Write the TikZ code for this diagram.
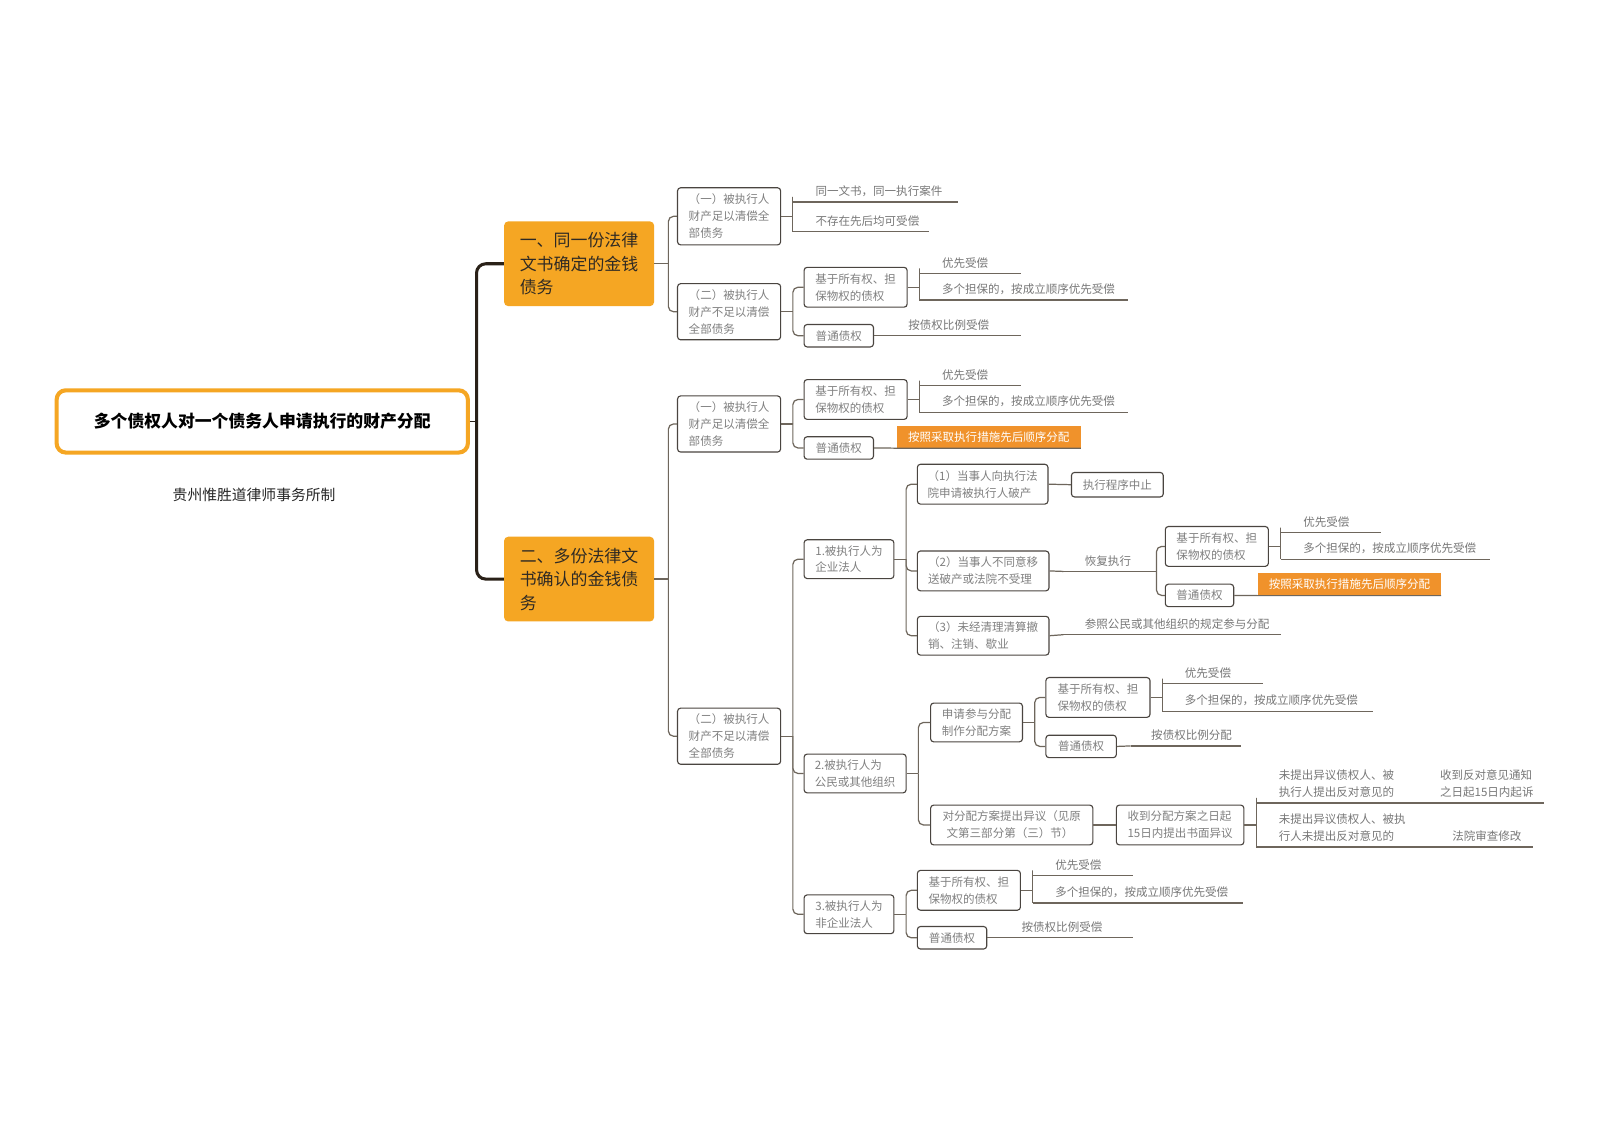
\documentclass[tikz,border=0pt]{standalone}
\usepackage{fontspec}
\setmainfont{Noto Sans CJK SC}
\usetikzlibrary{calc}
\definecolor{org}{HTML}{F5A623}
\definecolor{hlc}{HTML}{F0922B}
\definecolor{bdr}{HTML}{4A4540}
\definecolor{cn}{HTML}{6E665C}
\definecolor{tg}{HTML}{808080}
\definecolor{ut}{HTML}{787878}
\definecolor{dk}{HTML}{2A2118}
\definecolor{otxt}{HTML}{2F2A24}
\newcommand\ulpad[1]{\hspace*{#1pt}}
\begin{document}
\begin{tikzpicture}[x=1pt,y=-1pt,
  fs/.style={font=\fontsize{11.3}{16.5}\selectfont},
  bx/.style={fs, draw=bdr, line width=1.1pt, rounded corners=3pt, fill=white, text=tg, align=left, inner sep=0pt},
  ul/.style={fs, anchor=south west, inner xsep=0pt, inner ysep=5pt, align=left, text=ut},
  hlbox/.style={fs, fill=hlc, text=white, inner sep=0pt},
  root/.style={draw=org, line width=4pt, rounded corners=9pt, fill=white, minimum width=403pt, minimum height=61pt, font=\fontsize{16.5}{20}\selectfont\bfseries, text=black},
  obox/.style={fill=org, rounded corners=4pt, minimum width=147pt, minimum height=83pt, font=\fontsize{16.6}{23}\selectfont, align=left, text=otxt, inner sep=0pt},
  conn/.style={draw=cn, line width=1.2pt, rounded corners=5pt},
  ulline/.style={draw=cn, line width=1.2pt},
  mainline/.style={draw=dk, line width=3pt, rounded corners=9pt}
]
\useasboundingbox (0,0) rectangle (1568,1107);
\fill[white] (0,0) rectangle (1568,1107);

% root and main branches
\node[root] (R) at (257,413) {多个债权人对一个债务人申请执行的财产分配};
\node[font=\fontsize{14.5}{18}\selectfont, text=black!85] (S) at (249,485) {贵州惟胜道律师事务所制};
\node[obox] (O1) at (567.5,258.5) {一、同一份法律\\文书确定的金钱\\债务};
\node[obox] (O2) at (567.5,567.5) {二、多份法律文\\书确认的金钱债\\务};
\coordinate (jr) at (467,413);
\draw[draw=dk, line width=1.2pt] (R.east) -- (jr);
\draw[mainline] (O1.west) -| (jr) |- (O2.west);

% level 2
\node[bx, minimum width=101pt, minimum height=56pt] (A1) at (714.5,212) {（一）被执行人\\财产足以清偿全\\部债务};
\node[bx, minimum width=101pt, minimum height=55pt] (A2) at (714.5,305.5) {（二）被执行人\\财产不足以清偿\\全部债务};
\node[bx, minimum width=101pt, minimum height=55pt] (B1) at (714.5,415.5) {（一）被执行人\\财产足以清偿全\\部债务};
\node[bx, minimum width=101pt, minimum height=55pt] (B2) at (714.5,721.5) {（二）被执行人\\财产不足以清偿\\全部债务};
\coordinate (jO1) at (655,258.5);
\coordinate (jO2) at (655,567.5);
\draw[conn] (O1.east) -- (jO1);
\draw[conn] (jO1) |- (A1.west);
\draw[conn] (jO1) |- (A2.west);
\draw[conn] (O2.east) -- (jO2);
\draw[conn] (jO2) |- (B1.west);
\draw[conn] (jO2) |- (B2.west);

% A1 children
\node[ul, text width=161pt] (A1u1) at (777,198) {\ulpad{22}同一文书，同一执行案件};
\node[ul, text width=133pt] (A1u2) at (777,227) {\ulpad{22}不存在先后均可受偿};
\coordinate (jA1) at (777,212);
\draw[conn] (A1.east) -- (jA1);
\draw[conn] (jA1) |- (A1u1.south west);
\draw[conn] (jA1) |- (A1u2.south west);

% A2 children
\node[bx, minimum width=101pt, minimum height=39pt] (A2a) at (838.5,281.5) {基于所有权、担\\保物权的债权};
\node[bx, minimum width=68pt, minimum height=22pt] (A2b) at (822,329) {普通债权};
\coordinate (jA2) at (777,305.5);
\draw[conn] (A2.east) -- (jA2);
\draw[conn] (jA2) |- (A2a.west);
\draw[conn] (jA2) |- (A2b.west);
\node[ul, text width=99pt] (A2au1) at (901,268) {\ulpad{22}优先受偿};
\node[ul, text width=204pt] (A2au2) at (901,294) {\ulpad{22}多个担保的，按成立顺序优先受偿};
\coordinate (jA2a) at (901,281.5);
\draw[conn] (A2a.east) -- (jA2a);
\draw[conn] (jA2a) |- (A2au1.south west);
\draw[conn] (jA2a) |- (A2au2.south west);
\node[ul, text width=130pt] (A2bu) at (870,329) {\ulpad{20}按债权比例受偿};
\draw[conn] (A2b.east) -- (A2bu.south west);

% B1 children
\node[bx, minimum width=101pt, minimum height=39pt] (B1a) at (838.5,391.5) {基于所有权、担\\保物权的债权};
\node[bx, minimum width=68pt, minimum height=22pt] (B1b) at (822,439) {普通债权};
\coordinate (jB1) at (777,415.5);
\draw[conn] (B1.east) -- (jB1);
\draw[conn] (jB1) |- (B1a.west);
\draw[conn] (jB1) |- (B1b.west);
\node[ul, text width=99pt] (B1au1) at (901,378) {\ulpad{22}优先受偿};
\node[ul, text width=204pt] (B1au2) at (901,404) {\ulpad{22}多个担保的，按成立顺序优先受偿};
\coordinate (jB1a) at (901,391.5);
\draw[conn] (B1a.east) -- (jB1a);
\draw[conn] (jB1a) |- (B1au1.south west);
\draw[conn] (jB1a) |- (B1au2.south west);
\node[hlbox, minimum width=180pt, minimum height=22pt] (HL1) at (969,428) {按照采取执行措施先后顺序分配};
\draw[ulline] (B1b.east) -- (HL1.south west) -- (HL1.south east);

% B2 children
\node[bx, minimum width=88pt, minimum height=38pt] (C1) at (832,548) {1.被执行人为\\企业法人};
\node[bx, minimum width=100pt, minimum height=38pt] (C2) at (838,758) {2.被执行人为\\公民或其他组织};
\node[bx, minimum width=88pt, minimum height=38pt] (C3) at (832,896) {3.被执行人为\\非企业法人};
\coordinate (jB2) at (777,721.5);
\draw[conn] (B2.east) -- (jB2);
\draw[conn] (jB2) |- (C1.west);
\draw[conn] (jB2) |- (C2.west);
\draw[conn] (jB2) |- (C3.west);

% C1 children
\node[bx, minimum width=128pt, minimum height=39pt] (D1) at (963,474.5) {（1）当事人向执行法\\院申请被执行人破产};
\node[bx, minimum width=129pt, minimum height=39pt] (D2) at (963.5,559.5) {（2）当事人不同意移\\送破产或法院不受理};
\node[bx, minimum width=129pt, minimum height=38pt] (D3) at (963.5,623) {（3）未经清理清算撤\\销、注销、歇业};
\coordinate (jC1) at (888,548);
\draw[conn] (C1.east) -- (jC1);
\draw[conn] (jC1) |- (D1.west);
\draw[conn] (jC1) |- (D2.west);
\draw[conn] (jC1) |- (D3.west);
\node[bx, minimum width=90pt, minimum height=24pt] (D1c) at (1095,475) {执行程序中止};
\draw[conn] (D1.east) -- (D1c.west);
\node[ul, text width=91pt] (D2u) at (1042,560) {\ulpad{21}恢复执行};
\draw[conn] (D2.east) -- (D2u.south west);
\node[bx, minimum width=101pt, minimum height=39pt] (E1) at (1192.5,535.5) {基于所有权、担\\保物权的债权};
\node[bx, minimum width=67pt, minimum height=22pt] (E2) at (1175.5,583.5) {普通债权};
\draw[conn] (D2u.south east) |- (E1.west);
\draw[conn] (D2u.south east) |- (E2.west);
\node[ul, text width=98pt] (E1u1) at (1255,522) {\ulpad{22}优先受偿};
\node[ul, text width=205pt] (E1u2) at (1255,548) {\ulpad{22}多个担保的，按成立顺序优先受偿};
\coordinate (jE1) at (1255,535.5);
\draw[conn] (E1.east) -- (jE1);
\draw[conn] (jE1) |- (E1u1.south west);
\draw[conn] (jE1) |- (E1u2.south west);
\node[hlbox, minimum width=179pt, minimum height=22pt] (HL2) at (1322.5,572.5) {按照采取执行措施先后顺序分配};
\draw[ulline] (E2.east) -- (HL2.south west) -- (HL2.south east);
\node[ul, text width=213pt] (D3u) at (1042,622) {\ulpad{21}参照公民或其他组织的规定参与分配};
\draw[conn] (D3.east) -- (D3u.south west);

% C2 children
\node[bx, minimum width=90pt, minimum height=38pt] (F1) at (957,708) {申请参与分配\\制作分配方案};
\node[bx, minimum width=159pt, minimum height=39pt] (F2) at (991.5,808.5) {对分配方案提出异议（见原\\\hspace*{4pt}文第三部分第（三）节）};
\coordinate (jC2) at (900,758);
\draw[conn] (C2.east) -- (jC2);
\draw[conn] (jC2) |- (F1.west);
\draw[conn] (jC2) |- (F2.west);
\node[bx, minimum width=102pt, minimum height=39pt] (G1) at (1076,683.5) {基于所有权、担\\保物权的债权};
\node[bx, minimum width=69pt, minimum height=22pt] (G2) at (1059.5,731.5) {普通债权};
\coordinate (jF1) at (1014,708);
\draw[conn] (F1.east) -- (jF1);
\draw[conn] (jF1) |- (G1.west);
\draw[conn] (jF1) |- (G2.west);
\node[ul, text width=98pt] (G1u1) at (1139,670) {\ulpad{22}优先受偿};
\node[ul, text width=206pt] (G1u2) at (1139,697) {\ulpad{22}多个担保的，按成立顺序优先受偿};
\coordinate (jG1) at (1139,683.5);
\draw[conn] (G1.east) -- (jG1);
\draw[conn] (jG1) |- (G1u1.south west);
\draw[conn] (jG1) |- (G1u2.south west);
\node[ul, text width=108pt] (G2u) at (1108,731) {\ulpad{20}按债权比例分配};
\draw[conn] (G2.east) -- (G2u.south west);
\node[bx, minimum width=125pt, minimum height=39pt] (F2c) at (1156.5,808.5) {收到分配方案之日起\\15日内提出书面异议};
\draw[conn] (F2.east) -- (F2c.west);
\node[ul, text width=164pt] (H1) at (1231,787) {\ulpad{22}未提出异议债权人、被\\\ulpad{22}执行人提出反对意见的};
\node[ul, text width=164pt] (H2) at (1231,830) {\ulpad{22}未提出异议债权人、被执\\\ulpad{22}行人未提出反对意见的};
\coordinate (jF2c) at (1231,808.5);
\draw[conn] (F2c.east) -- (jF2c);
\draw[conn] (jF2c) |- (H1.south west);
\draw[conn] (jF2c) |- (H2.south west);
\node[ul, text width=118pt] (I1) at (1395,787) {\ulpad{16}收到反对意见通知\\\ulpad{16}之日起15日内起诉};
\node[ul, text width=107pt] (I2) at (1395,830) {\ulpad{28}法院审查修改};
\draw[ulline] (H1.south east) -- (I1.south west);
\draw[ulline] (H2.south east) -- (I2.south west);

% C3 children
\node[bx, minimum width=101pt, minimum height=39pt] (J1) at (949.5,872.5) {基于所有权、担\\保物权的债权};
\node[bx, minimum width=68pt, minimum height=22pt] (J2) at (933,919) {普通债权};
\coordinate (jC3) at (888,896);
\draw[conn] (C3.east) -- (jC3);
\draw[conn] (jC3) |- (J1.west);
\draw[conn] (jC3) |- (J2.west);
\node[ul, text width=98pt] (J1u1) at (1012,858) {\ulpad{22}优先受偿};
\node[ul, text width=206pt] (J1u2) at (1012,885) {\ulpad{22}多个担保的，按成立顺序优先受偿};
\coordinate (jJ1) at (1012,872.5);
\draw[conn] (J1.east) -- (jJ1);
\draw[conn] (jJ1) |- (J1u1.south west);
\draw[conn] (jJ1) |- (J1u2.south west);
\node[ul, text width=129pt] (J2u) at (981,919) {\ulpad{20}按债权比例受偿};
\draw[conn] (J2.east) -- (J2u.south west);

% underlines
\foreach \n in {A1u1,A1u2,A2au1,A2au2,A2bu,B1au1,B1au2,D2u,E1u1,E1u2,D3u,G1u1,G1u2,G2u,H1,H2,I1,I2,J1u1,J1u2,J2u}
  \draw[ulline] (\n.south west) -- (\n.south east);
\end{tikzpicture}
\end{document}
